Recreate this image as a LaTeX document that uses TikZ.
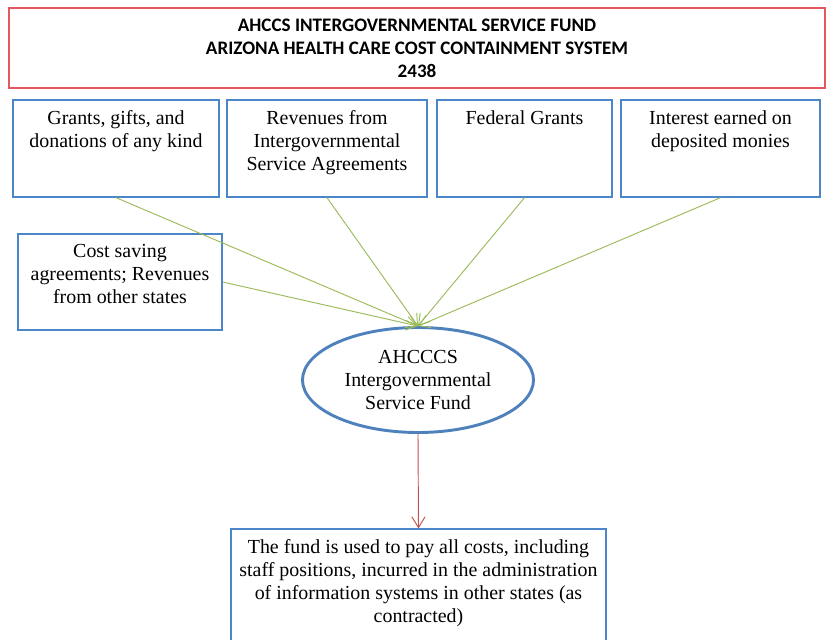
\documentclass[tikz,border=0pt]{standalone}
\usepackage{fontspec}
\setmainfont{Liberation Serif}
\newfontfamily\headfont{Carlito}
\usepackage{tikz}
\usetikzlibrary{arrows.meta}
\usetikzlibrary{positioning}
\usetikzlibrary{fit}
\usetikzlibrary{shapes.geometric}

\definecolor{boxblue}{RGB}{74,134,200}
\definecolor{fundblue}{RGB}{79,129,189}
\definecolor{inflow}{RGB}{155,187,89}
\definecolor{outflow}{RGB}{192,80,77}
\definecolor{headred}{RGB}{226,88,92}

\tikzset{
  srcbox/.style={draw=boxblue, line width=1.1pt, inner sep=0pt},
  srctext/.style={align=center, inner sep=0pt, font=\fontsize{17}{19.6}\selectfont},
  inarrow/.style={draw=inflow, line width=0.8pt, -{Straight Barb[length=0.32cm,width=0.4cm]}},
  outarrow/.style={draw=outflow, line width=0.8pt, -{Straight Barb[length=0.32cm,width=0.4cm]}},
}

\begin{document}
\begin{tikzpicture}[x=0.03cm, y=0.03cm]
\useasboundingbox (0,0) rectangle (829,-640);
% heading
\node[draw=headred, line width=1.5pt, minimum width=24.5cm, minimum height=2.4cm, align=center,
      font=\headfont\bfseries\fontsize{16.3}{19.6}\selectfont] (head) at (417,-48)
      {AHCCS INTERGOVERNMENTAL SERVICE FUND\\ARIZONA HEALTH CARE COST CONTAINMENT SYSTEM\\2438};

% sources of money
\node[srcbox, fit={(13,-100) (219,-197)}] (gifts) {};
\node[srctext, below=0.33cm of gifts.north] {Grants, gifts, and\\donations of any kind};
\node[srcbox, fit={(227,-100) (427,-197)}] (agreements) {};
\node[srctext, below=0.33cm of agreements.north] {Revenues from\\Intergovernmental\\Service Agreements};
\node[srcbox, fit={(437,-100) (612,-197)}] (federal) {};
\node[srctext, below=0.33cm of federal.north] {Federal Grants};
\node[srcbox, fit={(621,-100) (820,-197)}] (interest) {};
\node[srctext, below=0.33cm of interest.north] {Interest earned on\\deposited monies};
\node[srcbox, fit={(18,-234) (222,-330)}] (costsaving) {};
\node[srctext, below=0.33cm of costsaving.north] {Cost saving\\agreements; Revenues\\from other states};

% the fund
\node[ellipse, draw=fundblue, line width=2.5pt, minimum width=6.93cm, minimum height=3.15cm,
      srctext] (fund) at (418,-380) {AHCCCS\\Intergovernmental\\Service Fund};

% what it pays for
\node[srcbox, fit={(231,-529) (606,-680)}] (uses) {};
\node[srctext, below=0.32cm of uses.north] {The fund is used to pay all costs, including\\staff positions, incurred in the administration\\of information systems in other states (as\\contracted)};

\foreach \src in {gifts,agreements,federal,interest}
  \draw[inarrow] (\src.south) -- (fund.north);
\draw[inarrow] (costsaving.east) -- (fund.north);
\draw[outarrow] (fund.south) -- (uses.north);
\end{tikzpicture}
\end{document}
